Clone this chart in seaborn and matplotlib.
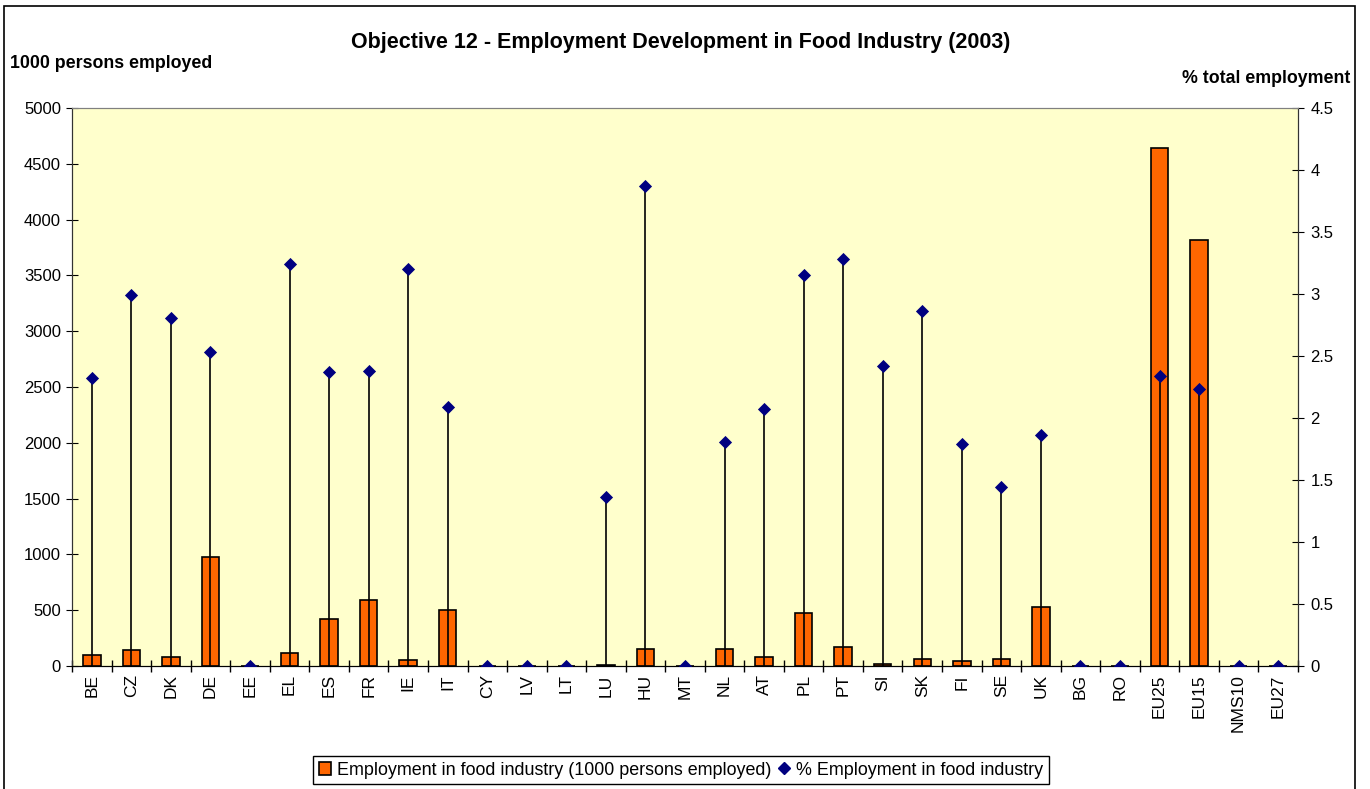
import numpy as np
import pandas as pd
import matplotlib
matplotlib.use("Agg")
import matplotlib.pyplot as plt
import seaborn as sns
from matplotlib.patches import Patch, Rectangle
from matplotlib.lines import Line2D
from matplotlib.ticker import MultipleLocator, FixedLocator

countries = ['BE', 'CZ', 'DK', 'DE', 'EE', 'EL', 'ES', 'FR', 'IE', 'IT', 'CY', 'LV',
             'LT', 'LU', 'HU', 'MT', 'NL', 'AT', 'PL', 'PT', 'SI', 'SK', 'FI', 'SE',
             'UK', 'BG', 'RO', 'EU25', 'EU15', 'NMS10', 'EU27']
employment = [97, 143, 80, 977, 0, 116, 421, 591, 54, 502, 0, 0,
              0, 5, 152, 0, 150, 85, 475, 170, 20, 60, 45, 65,
              528, 0, 0, 4645, 3815, 0, 0]
pct_employment = [2.32, 2.99, 2.81, 2.53, 0, 3.24, 2.37, 2.38, 3.20, 2.09, 0, 0,
                  0, 1.36, 3.87, 0, 1.81, 2.07, 3.15, 3.28, 2.42, 2.86, 1.79, 1.44,
                  1.86, 0, 0, 2.34, 2.23, 0, 0]
pct_ticks = ['0', '0.5', '1', '1.5', '2', '2.5', '3', '3.5', '4', '4.5']

df = pd.DataFrame({'country': countries, 'emp': employment, 'pct': pct_employment})
df['pos'] = np.arange(len(df))

plt.rcParams['font.family'] = ['Liberation Sans', 'DejaVu Sans']

fig = plt.figure(figsize=(13.7, 7.89), dpi=100)
ax = fig.add_axes([0.0526, 0.1559, 0.8948, 0.7072])
ax.set_facecolor('#FFFFCC')

sns.barplot(data=df, x='country', y='emp', order=countries, color='#FF6600',
            edgecolor='black', linewidth=1.2, width=0.44, saturation=1, ax=ax)
ax.set_ylim(0, 5000)
ax.set_xlim(-0.5, len(countries) - 0.5)
ax.yaxis.set_major_locator(MultipleLocator(500))
ax.set_xlabel('')
ax.set_ylabel('')

# % share with drop lines down to the axis
ax2 = ax.twinx()
ax2.vlines(df['pos'], 0, df['pct'], color='black', linewidth=1.2, zorder=2)
sns.scatterplot(x=df['pos'], y=df['pct'], marker='D', color='#000080', s=45,
                edgecolor='#000080', linewidth=0, ax=ax2, zorder=3)
ax2.set_ylim(0, 4.5)
ax2.set_yticks(np.arange(0, 4.51, 0.5))
ax2.set_yticklabels(pct_ticks)
ax2.set_xlim(-0.5, len(countries) - 0.5)
ax2.set_xlabel('')
ax2.set_ylabel('')

# excel-like ticks
ax.tick_params(axis='x', which='major', length=0, labelsize=12.5, labelrotation=90, pad=6)
ax.xaxis.set_minor_locator(FixedLocator(np.arange(-0.5, len(countries), 1)))
ax.tick_params(axis='x', which='minor', direction='inout', length=8, width=1)
ax.tick_params(axis='y', direction='inout', length=8, labelsize=12, pad=4)
ax2.tick_params(axis='y', direction='inout', length=8, labelsize=12, pad=5)

for a in (ax, ax2):
    a.spines['top'].set_color('#808080')
    a.spines['left'].set_color('#333333')
    a.spines['right'].set_color('#333333')
    a.spines['bottom'].set_color('black')

fig.text(0.497, 0.946, 'Objective 12 - Employment Development in Food Industry (2003)',
         ha='center', va='center', fontsize=15.5, fontweight='bold')
fig.text(0.007, 0.919, '1000 persons employed', ha='left', va='center',
         fontsize=12.8, fontweight='bold')
fig.text(0.986, 0.901, '% total employment', ha='right', va='center',
         fontsize=12.8, fontweight='bold')

handles = [Patch(facecolor='#FF6600', edgecolor='black', linewidth=1.2),
           Line2D([], [], marker='D', color='#000080', linestyle='none', markersize=6)]
leg = fig.legend(handles, ['Employment in food industry (1000 persons employed)',
                           '% Employment in food industry'],
                 loc='center', bbox_to_anchor=(0.497, 0.024), ncol=2, fontsize=12.9,
                 frameon=True, fancybox=False, edgecolor='black', framealpha=1,
                 handlelength=0.7, handleheight=0.7, handletextpad=0.3,
                 columnspacing=0.4, borderpad=0.3)
leg.get_frame().set_linewidth(1)

fig.patches.append(Rectangle((0.003, -0.01), 0.986, 1.003, transform=fig.transFigure,
                             fill=False, edgecolor='black', linewidth=1.2))

fig.savefig('out.png', dpi=100)
